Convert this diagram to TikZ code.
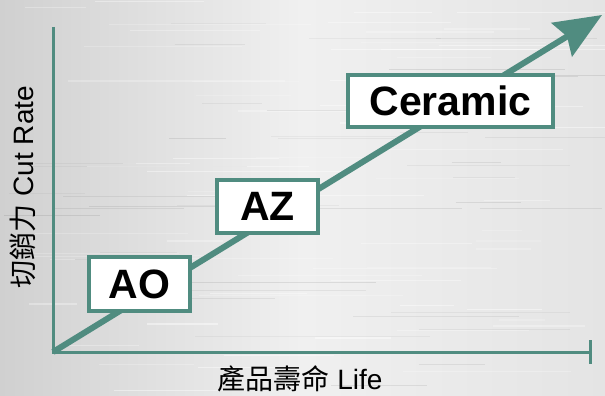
\documentclass[tikz,border=0pt]{standalone}
\usepackage{fontspec}
\setmainfont{Liberation Sans}
\newfontfamily\cjk{Noto Sans CJK TC}
\usetikzlibrary{arrows.meta}
\definecolor{tealline}{RGB}{80,140,128}
\definecolor{bgdark}{RGB}{208,208,208}
\definecolor{bglight}{RGB}{240,240,240}
\definecolor{bgright}{RGB}{228,228,228}
\begin{document}
\begin{tikzpicture}[x=1pt,y=-1pt,
  boxnode/.style={draw=tealline,line width=4pt,fill=white,inner sep=0pt,
    font=\fontsize{41}{41}\selectfont\bfseries},
  axisline/.style={draw=tealline,line width=3pt},
  labeltext/.style={font=\fontsize{28}{28}\selectfont,text=black,inner sep=0pt}]
\useasboundingbox (0,0) rectangle (605,396);
% background
\begin{scope}
\clip (0,0) rectangle (605,396);
\fill[left color=bgdark,right color=bgright,middle color=bglight] (0,0) rectangle (605,396);
\pgfmathsetseed{7}
\foreach \i in {1,...,70}{
  \pgfmathsetmacro{\yy}{rnd*396}
  \pgfmathsetmacro{\xa}{rnd*500}
  \pgfmathsetmacro{\ww}{40+rnd*200}
  \pgfmathsetmacro{\op}{0.15+rnd*0.3}
  \draw[white,opacity=\op,line width=1.2pt] (\xa,\yy) -- ++(\ww,0);
}
\foreach \i in {1,...,40}{
  \pgfmathsetmacro{\yy}{rnd*396}
  \pgfmathsetmacro{\xa}{rnd*500}
  \pgfmathsetmacro{\ww}{40+rnd*200}
  \pgfmathsetmacro{\op}{0.03+rnd*0.06}
  \draw[black,opacity=\op,line width=1pt] (\xa,\yy) -- ++(\ww,0);
}
\end{scope}
% coordinates
\coordinate (O) at (53,352);
\coordinate (ytop) at (53,27);
\coordinate (xend) at (590,352);
\coordinate (tickt) at (590,340);
\coordinate (tickb) at (590,364);
\coordinate (tip) at (602,15);
% axes
\draw[axisline] (ytop) -- (O) -- (xend);
\draw[axisline] (tickt) -- (tickb);
% main arrow
\draw[tealline,line width=6pt,-{Stealth[length=47pt,width=39pt,inset=6pt]}] (O) -- (tip);
% boxes
\node[boxnode,minimum width=101pt,minimum height=54pt] (ao) at (139.5,284) {AO};
\node[boxnode,minimum width=101pt,minimum height=53pt] (az) at (267.5,206.5) {AZ};
\node[boxnode,minimum width=205pt,minimum height=51pt] (cer) at (450.5,101) {Ceramic};
% axis labels
\node[labeltext,rotate=90] (ylab) at (23,187) {{\cjk 切銷力} Cut Rate};
\node[labeltext] (xlab) at (300,379) {{\cjk 產品壽命} Life};
\end{tikzpicture}
\end{document}
